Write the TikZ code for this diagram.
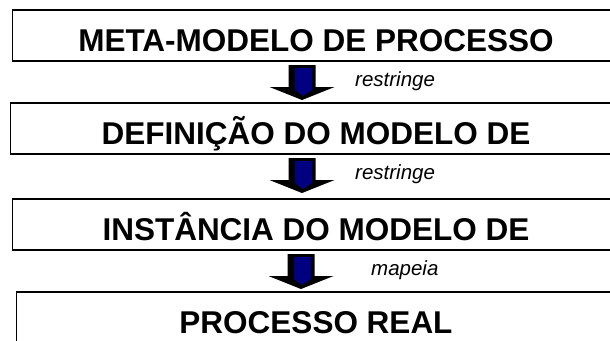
\documentclass[tikz,border=0pt]{standalone}
\usepackage{fontspec}
\setmainfont{Liberation Sans}
\definecolor{arrnavy}{RGB}{0,0,128}
\usetikzlibrary{positioning}

\begin{document}
\begin{tikzpicture}[x=1pt, y=-1pt,
    levelbox/.style={rectangle, draw=black, line width=1.8pt, inner sep=0pt, outer sep=0pt,
                     minimum height=51pt, text height=31.5pt, text depth=0pt,
                     font=\fontsize{31.5}{36}\selectfont\bfseries},
    relname/.style={anchor=base west, inner sep=0pt, font=\fontsize{20.5}{24}\selectfont\itshape},
    blockarrow/.pic={
      \fill[black] (-13.5,0) -- (13.5,0) -- (13.5,22) -- (32.5,22) -- (0,35)
                   -- (-32.5,22) -- (-13.5,22) -- cycle;
      \fill[arrnavy] (-7,3) -- (10,3) -- (10,25) -- (1,31) -- (-7,25) -- cycle;
    }
  ]
    \useasboundingbox (0,0) rectangle (610,340);
    \clip (0,0) rectangle (610,340);

    % Levels
    \node[levelbox, minimum width=607pt] (meta) at (316,35.5) {META-MODELO DE PROCESSO};
    \node[levelbox, minimum width=611pt, below=42pt of meta] (defin) {DEFINIÇÃO DO MODELO DE};
    \node[levelbox, minimum width=607pt, below=45pt of defin] (inst) {INSTÂNCIA DO MODELO DE};
    \node[levelbox, minimum width=599pt, below=42pt of inst] (real) {PROCESSO REAL};

    % Arrows between levels
    \pic at ([xshift=-14pt, yshift=-4pt]meta.south) {blockarrow};
    \pic at ([xshift=-14pt, yshift=-4pt]defin.south) {blockarrow};
    \pic at ([xshift=-15pt, yshift=-4pt]inst.south) {blockarrow};

    % Relation names
    \node[relname] (rel1) at ([xshift=39pt, yshift=-25pt]meta.south) {restringe};
    \node[relname] (rel2) at ([xshift=39pt, yshift=-25pt]defin.south) {restringe};
    \node[relname] (rel3) at ([xshift=55pt, yshift=-25pt]inst.south) {mapeia};
  \end{tikzpicture}
\end{document}
